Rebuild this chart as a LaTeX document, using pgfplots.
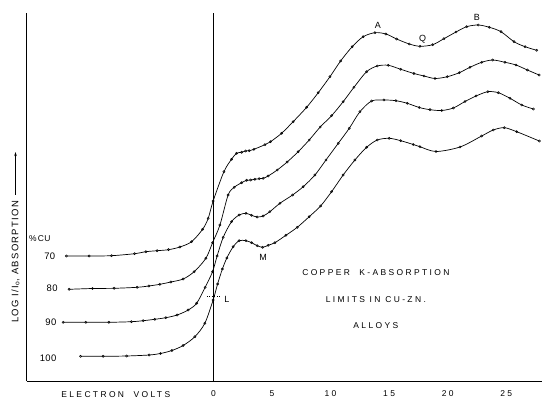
\documentclass[border=0pt]{standalone}
\usepackage{fontspec}
\setmainfont{Liberation Sans}[LetterSpace=28]
\newfontfamily\tightfont{Liberation Sans}[LetterSpace=4]
\newfontfamily\ylabfont{Liberation Sans}[LetterSpace=14]
\usepackage{pgfplots}
\pgfplotsset{compat=1.18}
\usetikzlibrary{arrows.meta}
\begin{document}
\begin{tikzpicture}
\begin{axis}[
  at={(0,0)}, anchor=south west, scale only axis,
  width=515.5bp, height=368bp,
  xmin=-15.95, xmax=28.05, ymin=0, ymax=368,
  axis x line=bottom, axis y line=left,
  axis line style={-, line width=0.8bp},
  ytick=\empty, xtick={0,5,10,15,20,25},
  major tick length=0pt,
  xticklabel style={font=\fontsize{8.5}{10}\selectfont, yshift=-6bp},
  /pgf/number format/assume math mode=true,
  clip=false,
  cu/.style={black, line width=0.7bp, smooth,
    mark=o, mark size=1.1bp, mark options={fill=white, line width=0.5bp}},
]
% 70 % Cu
\addplot[cu] coordinates {
(-12.54,125) (-10.61,125) (-8.69,125.3) (-6.73,127.3) (-5.76,129.3) (-4.80,130.3)
(-3.83,131.3) (-2.86,134) (-1.86,139.3) (-0.92,151.7) (-0.44,162.7) (-0.02,180)
(0.90,209.3) (1.55,221.7) (1.98,227.7) (2.41,228.7) (2.75,230) (3.06,230.3)
(3.46,231.7) (4.40,236.3) (4.88,239.3) (5.82,247.7) (6.81,259.3) (7.96,273.7)
(8.95,288.3) (9.95,304.3) (10.86,320) (11.85,334.3) (12.79,344.3) (13.79,348.3)
(14.73,347) (15.64,342) (16.72,337) (17.63,334.7) (18.72,336.3) (19.68,342.3)
(20.71,349) (21.62,354.3) (22.61,356) (23.55,353.7) (24.55,349.3) (25.66,339.3)
(26.60,334.3) (27.60,330.7)};
% 80 % Cu
\addplot[cu] coordinates {
(-12.31,91.7) (-10.32,92.5) (-8.47,92.7) (-6.51,93.7) (-5.51,95) (-4.57,96.7)
(-3.63,99) (-2.58,102) (-1.64,109.3) (-0.64,122.7) (-0.07,138.3) (0.56,156)
(1.26,186) (1.78,193.7) (2.41,198.3) (2.84,200.7) (3.18,201) (3.54,201.7)
(3.91,202.3) (4.25,202.7) (4.68,205) (5.45,211) (6.30,219) (7.24,229.3)
(8.18,241) (9.12,254) (10.09,265.3) (11.08,279.3) (12.00,293.7) (13.08,309.3)
(13.99,315) (14.93,315.7) (15.99,311.7) (17.12,307.5) (17.98,305) (18.92,302.5)
(19.97,304.3) (20.99,308.3) (21.90,313.7) (22.90,318.7) (23.84,321) (24.89,318.7)
(25.83,316) (26.80,311) (27.80,306)};
% 90 % Cu
\addplot[cu] coordinates {
(-12.82,58.7) (-10.89,58.7) (-8.92,58.7) (-6.99,59.3) (-5.99,60.3) (-5.00,61.7)
(-4.06,63.3) (-3.09,66) (-2.15,71) (-1.43,77.7) (-0.70,93.7) (-0.07,109.3)
(0.32,125) (0.84,143.7) (1.55,159.3) (2.20,166) (2.78,167.7) (3.26,165.7)
(3.74,164) (4.25,165) (4.82,169.3) (5.68,177.7) (6.76,186) (7.67,194.3)
(8.67,206) (9.61,221) (10.66,237.7) (11.60,252.7) (12.51,269.3) (13.51,280)
(14.56,281) (15.58,280.3) (16.55,277.7) (17.57,273.5) (18.49,271.3) (19.49,270.5)
(20.48,273) (21.48,279.5) (22.42,285) (23.42,289.3) (24.32,288.3) (25.32,282.7)
(26.32,276) (27.31,272)};
% 100 % Cu
\addplot[cu] coordinates {
(-11.34,24.7) (-9.41,24.7) (-7.41,25) (-5.48,26) (-4.51,27.5) (-3.54,30.5)
(-2.58,35.5) (-1.58,44.3) (-0.73,57.7) (-0.02,81) (0.36,97) (0.77,112)
(1.15,123) (1.69,134.3) (2.20,140.3) (2.78,140.3) (3.26,138.3) (3.74,135.3)
(4.20,133.7) (4.68,135.7) (5.25,138.3) (6.19,145.7) (7.16,153.7) (8.18,164.3)
(9.15,175) (10.09,189.3) (11.08,206) (12.08,221) (13.08,233.7) (13.99,241)
(15.01,242.7) (15.99,240.3) (17.06,236.5) (17.63,234.3) (19.00,229.5) (21.05,234)
(22.90,245) (23.89,251) (24.83,253.3) (25.89,249.3) (27.82,240)};
% vertical zero line
\draw[line width=0.8bp] (axis cs:0,0) -- (axis cs:0,368);
\draw[dotted, line width=0.5bp] (axis cs:-0.56,85) -- (axis cs:0.64,85);
% curve labels
\node[anchor=east, font=\tightfont\fontsize{9.5}{11}\selectfont] at (axis cs:-13.2,125) {70};
\node[anchor=east, font=\tightfont\fontsize{9.5}{11}\selectfont] at (axis cs:-13.0,92.7) {80};
\node[anchor=east, font=\tightfont\fontsize{9.5}{11}\selectfont] at (axis cs:-13.1,58.3) {90};
\node[anchor=east, font=\tightfont\fontsize{9.5}{11}\selectfont] at (axis cs:-13.1,22.7) {100};
\node[anchor=east, font=\tightfont\fontsize{8.5}{10}\selectfont] at (axis cs:-13.6,142.7) {\%\,CU};
\node[font=\fontsize{9}{11}\selectfont] at (axis cs:14.05,356) {A};
\node[font=\fontsize{9}{11}\selectfont] at (axis cs:17.86,341.7) {Q};
\node[font=\fontsize{9}{11}\selectfont] at (axis cs:22.48,363.7) {B};
\node[font=\fontsize{9}{11}\selectfont] at (axis cs:4.25,124) {M};
\node[font=\fontsize{9}{11}\selectfont] at (axis cs:1.15,82) {L};
\node[font=\fontsize{8.5}{10}\selectfont] at (axis cs:13.87,108) {COPPER\ \ K-ABSORPTION};
\node[font=\fontsize{8.5}{10}\selectfont] at (axis cs:13.87,81) {LIMITS\ IN\ CU-ZN.};
\node[font=\fontsize{8.5}{10}\selectfont] at (axis cs:13.87,55) {ALLOYS};
\node[font=\fontsize{8.5}{10}\selectfont] at (axis cs:-8.33,-13.5) {ELECTRON\ \ VOLTS};
\node[rotate=90, anchor=west, inner sep=0pt, font=\ylabfont\fontsize{9.5}{11}\selectfont] at (axis cs:-16.89,58) {LOG I/I\textsubscript{o}, ABSORPTION};
\draw[-{Stealth[length=4bp,width=2.5bp]}, line width=0.5bp] (axis cs:-16.89,186) -- (axis cs:-16.89,229);
\end{axis}
\pgfresetboundingbox
\path[use as bounding box] (-26.5bp,-18bp) rectangle (515.5bp,381bp);
\end{tikzpicture}
\end{document}
